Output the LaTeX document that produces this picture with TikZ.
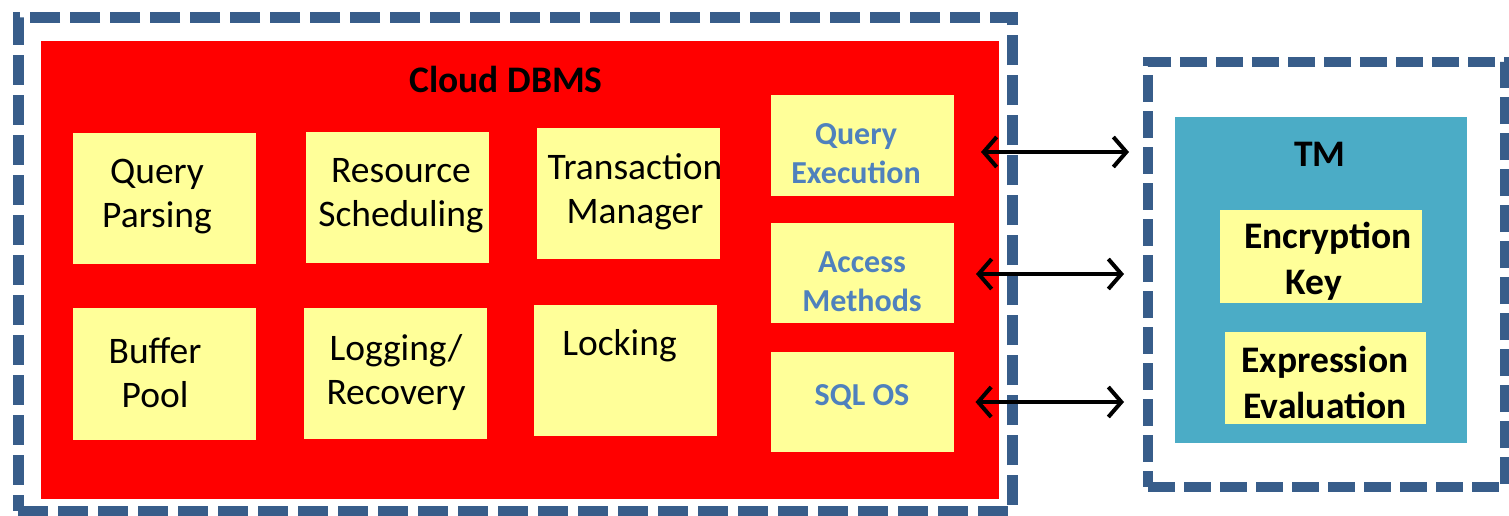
\documentclass[tikz,border=0pt]{standalone}
\usepackage{fontspec}
\setmainfont{Carlito}
\usetikzlibrary{arrows.meta,calc}
\definecolor{framecol}{HTML}{385D8A}
\definecolor{dbred}{HTML}{FF0000}
\definecolor{boxyellow}{HTML}{FFFF99}
\definecolor{tmcyan}{HTML}{4BACC6}
\definecolor{labelblue}{HTML}{4F81BD}
\tikzset{
  every node/.style={inner sep=0pt, outer sep=0pt},
  frame/.style={draw=framecol, line width=11pt, dash pattern=on 30pt off 10pt, rectangle},
  panel/.style={fill=#1, rectangle},
  ybox/.style={fill=boxyellow, rectangle, minimum width=183pt},
  plaintext/.style={align=center, font=\fontsize{37.5}{44}\selectfont, text=black},
  boldtext/.style={align=center, font=\fontsize{37.5}{46}\selectfont\bfseries, text=black},
  bluetext/.style={align=center, font=\fontsize{32}{39}\selectfont\bfseries, text=labelblue},
  biarrow/.style={line width=4pt, {Straight Barb[length=13pt,width=30pt]}-{Straight Barb[length=13pt,width=30pt]}}
}
\begin{document}
\begin{tikzpicture}[x=1pt,y=-1pt]
\useasboundingbox (0,0) rectangle (1509,515);

% Cloud DBMS side
\node[frame, minimum width=994pt, minimum height=494pt] (dbframe) at (515,264) {};
\node[panel=dbred, minimum width=958pt, minimum height=458pt] (db) at (520,270) {};
\node[boldtext] (dbtitle) at (506,79) {Cloud DBMS};

% component boxes
\node[ybox, minimum height=131pt] (qp) at (164.5,198.5) {};
\node[ybox, minimum height=131pt] (rs) at (397.5,197.5) {};
\node[ybox, minimum height=131pt] (tx) at (628.5,193.5) {};
\node[ybox, minimum height=132pt] (bp) at (164.5,374) {};
\node[ybox, minimum height=131pt] (lr) at (395.5,373.5) {};
\node[ybox, minimum height=131pt] (lk) at (625.5,370.5) {};
\node[ybox, minimum height=101pt] (qe) at (862.5,145.5) {};
\node[ybox, minimum height=100pt] (am) at (862.5,273) {};
\node[ybox, minimum height=100pt] (sq) at (862,402) {};

\node[plaintext] (qpt) at (157,196.5) {Query\\Parsing};
\node[plaintext] (rst) at (401,196) {Resource\\Scheduling};
\node[plaintext] (txt) at (635,192) {Transaction\\Manager};
\node[plaintext] (bpt) at (155,372.5) {Buffer\\Pool};
\node[plaintext] (lrt) at (396,372.5) {Logging/\\Recovery};
\node[plaintext] (lkt) at (619.5,346) {Locking};
\node[bluetext] (qet) at (856,154) {Query\\Execution};
\node[bluetext] (amt) at (862,282) {Access\\Methods};
\node[bluetext] (sqt) at (862,397) {SQL OS};

% TM side
\node[frame, line width=10pt, dash pattern=on 27pt off 9pt, minimum width=357pt, minimum height=425pt] (tmframe) at (1326.5,274.5) {};
\node[panel=tmcyan, minimum width=292pt, minimum height=326pt] (tm) at (1321,280) {};
\node[boldtext] (tmtitle) at (1320,154) {TM};
\node[ybox, minimum width=202pt, minimum height=93pt] (ek) at (1321,256.5) {};
\node[ybox, minimum width=201pt, minimum height=92pt] (ee) at (1325,378) {};
\node[boldtext] (ekt) at (1328,261) {Encryption\\Key\hspace*{28pt}};
\node[boldtext] (eet) at (1325,382.5) {Expression\\Evaluation};

% links between the DBMS and the TM
\draw[biarrow] ($(qe.east)+(27,6.5)$) -- ($(qe.east -| tmframe.west)+(-19,6.5)$);
\draw[biarrow] ($(am.east)+(22,1)$) -- ($(am.east -| tmframe.west)+(-24,1)$);
\draw[biarrow] ($(sq.east)+(22,0)$) -- ($(sq.east -| tmframe.west)+(-24,0)$);
\end{tikzpicture}
\end{document}
